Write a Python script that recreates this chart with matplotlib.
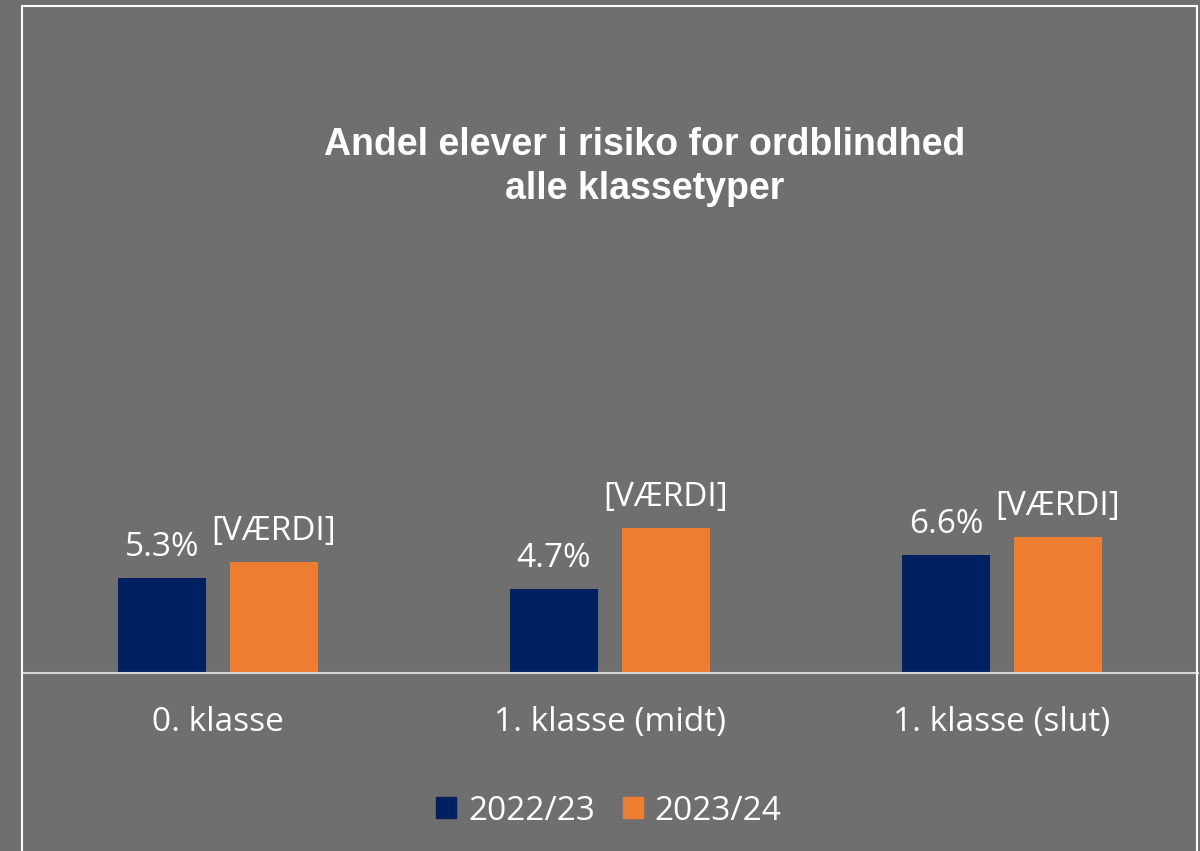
import matplotlib.pyplot as plt
from matplotlib.patches import Rectangle, Patch
import numpy as np

# data
categories = ['0. klasse', '1. klasse (midt)', '1. klasse (slut)']
series_names = ['2022/23', '2023/24']
values_2223 = [5.3, 4.7, 6.6]
values_2324 = [6.2, 8.1, 7.6]
labels_2324 = ['[VÆRDI]', '[VÆRDI]', '[VÆRDI]']

bg = '#6F6F6F'
navy = '#002060'
orange = '#ED7D31'
font = ['Open Sans', 'DejaVu Sans']

fig = plt.figure(figsize=(12, 8.51), dpi=100, facecolor=bg)
ax = fig.add_axes([22/1200, (851-673)/851, 1176/1200, 573/851])
ax.set_facecolor(bg)

x = np.arange(len(categories))
w = 0.2245
off = 0.1429
b1 = ax.bar(x - off, values_2223, w, color=navy)
b2 = ax.bar(x + off, values_2324, w, color=orange)

# data labels
for rect, v in zip(b1, values_2223):
    ax.annotate(f'{v:.1f}%', (rect.get_x() + rect.get_width()/2, rect.get_height()),
                xytext=(0, 22), textcoords='offset pixels', ha='center', va='baseline',
                color='white', fontsize=24, family=font)
for rect, t in zip(b2, labels_2324):
    ax.annotate(t, (rect.get_x() + rect.get_width()/2, rect.get_height()),
                xytext=(0, 22), textcoords='offset pixels', ha='center', va='baseline',
                color='white', fontsize=24, family=font)

ax.set_xlim(-0.5, 2.5)
ax.set_ylim(0, 32)
ax.set_yticks([])
ax.set_xticks(x)
ax.set_xticklabels(categories, color='white', fontsize=24, family=font)
ax.tick_params(axis='x', length=0, pad=24)
for s in ['top', 'left', 'right']:
    ax.spines[s].set_visible(False)
ax.spines['bottom'].set_color('#D9D9D9')
ax.spines['bottom'].set_linewidth(1.5)

fig.text(645/1200, 1 - 167/851, 'Andel elever i risiko for ordblindhed\nalle klassetyper',
         ha='center', va='center', color='white', fontsize=27, fontweight='bold',
         family='Liberation Sans', linespacing=1.32)

handles = [Patch(color=navy), Patch(color=orange)]
fig.legend(handles, series_names, loc='center', bbox_to_anchor=(609/1200, 1 - 811/851),
           ncol=2, frameon=False, prop={'family': 'Open Sans', 'size': 24},
           labelcolor='white', handlelength=0.6, handleheight=0.6, handletextpad=0.35,
           columnspacing=0.85)

# white frame
fig.patches.append(Rectangle((22/1200, -0.05), 1175/1200, 1.05 - 6/851, transform=fig.transFigure,
                             fill=False, edgecolor='white', linewidth=1.5))

fig.savefig('out.png', dpi=100, facecolor=bg)
